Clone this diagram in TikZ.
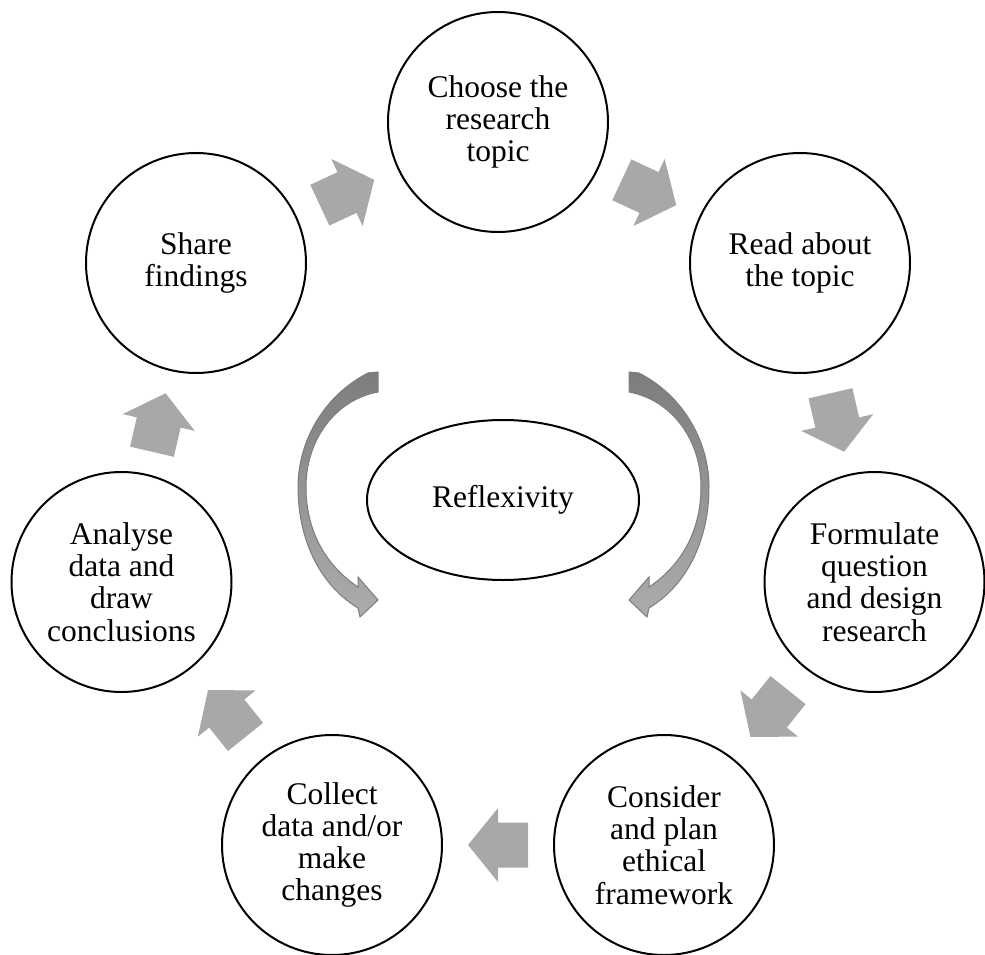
\documentclass[tikz,border=0pt]{standalone}
\usepackage{fontspec}
\setmainfont{Liberation Serif}
\usetikzlibrary{calc,shapes.geometric}
\definecolor{arrowgray}{RGB}{168,168,168}
\definecolor{arcdark}{RGB}{125,125,125}
\definecolor{arclight}{RGB}{172,172,172}
\definecolor{arcline}{RGB}{125,125,125}
\begin{document}
\begin{tikzpicture}[x=1pt,y=-1pt,
  stage/.style={circle,draw=black,line width=2pt,minimum size=220pt,inner sep=0pt,align=center,
    font=\fontsize{31.5}{32.3}\selectfont},
  centre/.style={ellipse,draw=black,line width=2pt,minimum width=272pt,minimum height=160pt,inner sep=0pt,
    font=\fontsize{31.5}{32.3}\selectfont},
  blockarrow/.style={fill=arrowgray},
  bentarrow/.style={top color=arcdark,bottom color=arclight,draw=arcline,line width=1pt}]
\useasboundingbox (0,0) rectangle (985,955);
\node[stage] (n0) at (498,122) {Choose the\\research\\topic};
\node[stage] (n1) at (800,263) {Read about\\the topic};
\node[stage] (n2) at (874.5,582) {Formulate\\question\\and design\\research};
\node[stage] (n3) at (664,845) {Consider\\and plan\\ethical\\framework};
\node[stage] (n4) at (332,845) {Collect\\data and/or\\make\\changes};
\node[stage] (n5) at (121.5,582) {Analyse\\data and\\draw\\conclusions};
\node[stage] (n6) at (196,263) {Share\\findings};
\node[centre] (rf) at (503,500) {Reflexivity};
% block arrows between stages
\foreach \a/\b in {n0/n1,n1/n2,n2/n3,n3/n4,n4/n5,n5/n6,n6/n0}{
  \pgfmathanglebetweenpoints{\pgfpointanchor{\a}{center}}{\pgfpointanchor{\b}{center}}
  \let\arrang\pgfmathresult
  \fill[blockarrow,shift={($(\a)!0.5!(\b)$)},rotate=\arrang]
    (-30,-22.5) -- (0,-22.5) -- (0,-37) -- (30,0) -- (0,37) -- (0,22.5) -- (-30,22.5) -- cycle;
}
% curved arrows around reflexivity
\shadedraw[bentarrow]
  (378,372) -- (368,373) .. controls (325,395) and (298,440) .. (298,487)
  .. controls (298,540) and (320,585) .. (358,608)
  -- (360,617) -- (378,600) -- (358,577) -- (358,587)
  .. controls (325,565) and (306,530) .. (306,487)
  .. controls (306,440) and (335,400) .. (378,392) -- cycle;
\begin{scope}[xshift=1007pt,xscale=-1]
\shadedraw[bentarrow]
  (378,372) -- (368,373) .. controls (325,395) and (298,440) .. (298,487)
  .. controls (298,540) and (320,585) .. (358,608)
  -- (360,617) -- (378,600) -- (358,577) -- (358,587)
  .. controls (325,565) and (306,530) .. (306,487)
  .. controls (306,440) and (335,400) .. (378,392) -- cycle;
\end{scope}
\end{tikzpicture}
\end{document}
